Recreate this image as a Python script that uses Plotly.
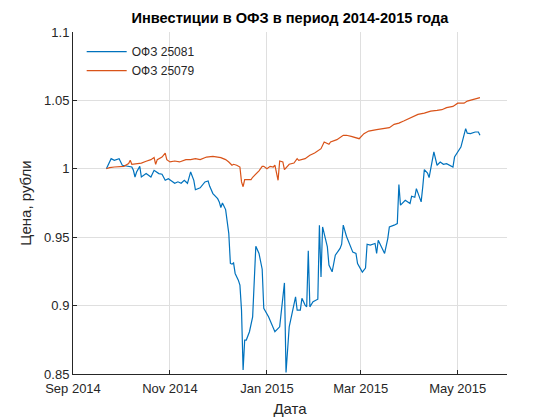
import plotly.graph_objects as go

dates_25081 = [
    "2014-09-22", "2014-09-25", "2014-09-27", "2014-09-30", "2014-10-02", "2014-10-05",
    "2014-10-08", "2014-10-09", "2014-10-10", "2014-10-11", "2014-10-13", "2014-10-14",
    "2014-10-17", "2014-10-20", "2014-10-22", "2014-10-25", "2014-10-27", "2014-10-29",
    "2014-10-31", "2014-11-02", "2014-11-04", "2014-11-06", "2014-11-08", "2014-11-10",
    "2014-11-12", "2014-11-14", "2014-11-16", "2014-11-17", "2014-11-20", "2014-11-23",
    "2014-11-25", "2014-11-26", "2014-11-28", "2014-12-01", "2014-12-02", "2014-12-03",
    "2014-12-04", "2014-12-06", "2014-12-07", "2014-12-08", "2014-12-09", "2014-12-10",
    "2014-12-11", "2014-12-12", "2014-12-14", "2014-12-15", "2014-12-16", "2014-12-17",
    "2014-12-18", "2014-12-19", "2014-12-21", "2014-12-23", "2014-12-25", "2014-12-27",
    "2014-12-29", "2014-12-30", "2015-01-02", "2015-01-06", "2015-01-09", "2015-01-12",
    "2015-01-13", "2015-01-15", "2015-01-19", "2015-01-20", "2015-01-22", "2015-01-23",
    "2015-01-25", "2015-01-26", "2015-01-27", "2015-01-28", "2015-01-30", "2015-02-02",
    "2015-02-03", "2015-02-04", "2015-02-05", "2015-02-08", "2015-02-09", "2015-02-11",
    "2015-02-13", "2015-02-16", "2015-02-17", "2015-02-18", "2015-02-20", "2015-02-24",
    "2015-02-26", "2015-02-27", "2015-03-02", "2015-03-04", "2015-03-05", "2015-03-07",
    "2015-03-10", "2015-03-11", "2015-03-12", "2015-03-16", "2015-03-18", "2015-03-19",
    "2015-03-22", "2015-03-24", "2015-03-25", "2015-03-26", "2015-03-29", "2015-04-01",
    "2015-04-02", "2015-04-04", "2015-04-05", "2015-04-08", "2015-04-09", "2015-04-10",
    "2015-04-12", "2015-04-13", "2015-04-16", "2015-04-18", "2015-04-20", "2015-04-22",
    "2015-04-24", "2015-04-26", "2015-04-28", "2015-04-29", "2015-05-03", "2015-05-06",
    "2015-05-07", "2015-05-09", "2015-05-12", "2015-05-14", "2015-05-15",
]
price_25081 = [
    1.0000, 1.0074, 1.0062, 1.0074, 1.0026, 1.0018,
    1.0013, 0.9989, 0.9940, 0.9977, 1.0018, 0.9940,
    0.9965, 0.9940, 0.9989, 0.9965, 0.9960, 0.9916,
    0.9928, 0.9911, 0.9894, 0.9905, 0.9894, 0.9916,
    0.9894, 0.9977, 0.9916, 0.9847, 0.9861, 0.9904,
    0.9911, 0.9872, 0.9819, 0.9782, 0.9758, 0.9717,
    0.9750, 0.9702, 0.9624, 0.9527, 0.9308, 0.9303,
    0.9312, 0.9235, 0.9186, 0.9150, 0.8967, 0.8529,
    0.8748, 0.8748, 0.8809, 0.8918, 0.9434, 0.9381,
    0.9266, 0.8980, 0.8918, 0.8809, 0.8845, 0.9166,
    0.8511, 0.8845, 0.9064, 0.8967, 0.8967, 0.9053,
    0.9004, 0.8991, 0.9400, 0.8991, 0.9028, 0.9047,
    0.9588, 0.9210, 0.9575, 0.9429, 0.9296, 0.9247,
    0.9369, 0.9418, 0.9449, 0.9588, 0.9507, 0.9391,
    0.9381, 0.9308, 0.9245, 0.9274, 0.9449, 0.9442,
    0.9454, 0.9381, 0.9478, 0.9381, 0.9490, 0.9575,
    0.9588, 0.9600, 0.9885, 0.9734, 0.9770, 0.9746,
    0.9799, 0.9792, 0.9855, 0.9758, 0.9867, 0.9994,
    0.9969, 0.9936, 1.0123, 1.0026, 1.0050, 1.0033,
    1.0038, 1.0026, 1.0013, 1.0086, 1.0159, 1.0293,
    1.0261, 1.0257, 1.0269, 1.0269, 1.0245,
]

dates_25079 = [
    "2014-09-22", "2014-09-24", "2014-09-27", "2014-10-01", "2014-10-03", "2014-10-06",
    "2014-10-07", "2014-10-08", "2014-10-11", "2014-10-14", "2014-10-17", "2014-10-20",
    "2014-10-22", "2014-10-23", "2014-10-24", "2014-10-27", "2014-10-29", "2014-10-30",
    "2014-11-01", "2014-11-04", "2014-11-07", "2014-11-11", "2014-11-14", "2014-11-17",
    "2014-11-20", "2014-11-24", "2014-11-28", "2014-12-03", "2014-12-06", "2014-12-08",
    "2014-12-10", "2014-12-11", "2014-12-13", "2014-12-15", "2014-12-16", "2014-12-17",
    "2014-12-18", "2014-12-22", "2014-12-23", "2014-12-26", "2014-12-27", "2014-12-29",
    "2014-12-30", "2015-01-01", "2015-01-03", "2015-01-05", "2015-01-06", "2015-01-08",
    "2015-01-09", "2015-01-11", "2015-01-12", "2015-01-15", "2015-01-18", "2015-01-20",
    "2015-01-21", "2015-01-25", "2015-01-28", "2015-01-31", "2015-02-04", "2015-02-06",
    "2015-02-08", "2015-02-09", "2015-02-10", "2015-02-14", "2015-02-18", "2015-02-20",
    "2015-02-23", "2015-02-26", "2015-02-28", "2015-03-03", "2015-03-06", "2015-03-11",
    "2015-03-15", "2015-03-19", "2015-03-22", "2015-03-25", "2015-03-28", "2015-03-31",
    "2015-04-03", "2015-04-06", "2015-04-10", "2015-04-14", "2015-04-18", "2015-04-21",
    "2015-04-24", "2015-04-28", "2015-05-01", "2015-05-05", "2015-05-07", "2015-05-10",
    "2015-05-15",
]
price_25079 = [
    1.0000, 1.0009, 1.0013, 1.0018, 1.0018, 1.0038,
    1.0062, 1.0033, 1.0038, 1.0042, 1.0055, 1.0067,
    1.0082, 1.0033, 1.0067, 1.0086, 1.0115, 1.0067,
    1.0050, 1.0057, 1.0050, 1.0067, 1.0067, 1.0074,
    1.0067, 1.0086, 1.0091, 1.0082, 1.0067, 1.0050,
    1.0026, 1.0033, 1.0026, 1.0013, 0.9904, 0.9869,
    0.9921, 0.9921, 0.9938, 0.9969, 0.9985, 1.0018,
    1.0018, 1.0001, 1.0018, 1.0013, 1.0026, 0.9916,
    1.0057, 1.0050, 0.9994, 1.0033, 1.0042, 1.0074,
    1.0062, 1.0074, 1.0099, 1.0115, 1.0147, 1.0196,
    1.0184, 1.0179, 1.0196, 1.0213, 1.0245, 1.0245,
    1.0237, 1.0225, 1.0220, 1.0257, 1.0276, 1.0286,
    1.0293, 1.0301, 1.0325, 1.0334, 1.0349, 1.0366,
    1.0383, 1.0398, 1.0407, 1.0422, 1.0427, 1.0432,
    1.0447, 1.0456, 1.0480, 1.0480, 1.0495, 1.0505,
    1.0520,
]

y_ticks = [0.85, 0.9, 0.95, 1.0, 1.05, 1.1]
y_tick_labels = ["0.85", "0.9", "0.95", "1", "1.05", "1.1"]

FONT = "Liberation Sans, Arial, Helvetica, sans-serif"
AXIS_COLOR = "#262626"
GRID_COLOR = "#dfdfdf"

# the page places the figure 8px from the top-left corner; margins compensate
OFF = 8

fig = go.Figure()
fig.add_trace(go.Scatter(x=dates_25081, y=price_25081, mode="lines", name="ОФЗ 25081",
                         line=dict(color="#0072BD", width=1.2)))
fig.add_trace(go.Scatter(x=dates_25079, y=price_25079, mode="lines", name="ОФЗ 25079",
                         line=dict(color="#D95319", width=1.2)))

fig.update_layout(
    width=560, height=420,
    paper_bgcolor="white", plot_bgcolor="white",
    margin=dict(l=73 - OFF, r=53 + OFF, t=32 - OFF, b=46 + OFF, autoexpand=False),
    font=dict(family=FONT, size=13, color=AXIS_COLOR),
    title=dict(text="<b>Инвестиции в ОФЗ в период 2014-2015 года</b>",
               x=(290 - OFF) / 560, xanchor="center", y=1 - (18 - OFF) / 420, yanchor="middle",
               font=dict(family=FONT, size=14.6, color="black")),
    showlegend=True,
    legend=dict(x=0.02, y=0.985, xanchor="left", yanchor="top",
                bgcolor="rgba(0,0,0,0)", borderwidth=0,
                font=dict(family=FONT, size=12, color=AXIS_COLOR),
                tracegroupgap=0, itemwidth=40),
    xaxis=dict(
        type="date",
        range=["2014-09-01", "2015-06-01"],
        tick0="2014-09-01", dtick="M2", tickformat="%b %Y",
        showgrid=True, gridcolor=GRID_COLOR, gridwidth=1,
        showline=True, linecolor=AXIS_COLOR, linewidth=1,
        ticks="inside", ticklen=4, tickcolor=AXIS_COLOR,
        ticklabelstandoff=2,
        tickfont=dict(family=FONT, size=13, color=AXIS_COLOR),
        title=dict(text="Дата", font=dict(family=FONT, size=15, color=AXIS_COLOR), standoff=8),
        zeroline=False, mirror=False, automargin=False,
    ),
    yaxis=dict(
        range=[0.85, 1.1],
        tickvals=y_ticks, ticktext=y_tick_labels,
        showgrid=True, gridcolor=GRID_COLOR, gridwidth=1,
        showline=True, linecolor=AXIS_COLOR, linewidth=1,
        ticks="inside", ticklen=4, tickcolor=AXIS_COLOR,
        tickfont=dict(family=FONT, size=13, color=AXIS_COLOR),
        title=dict(text="Цена, рубли", font=dict(family=FONT, size=15, color=AXIS_COLOR), standoff=8),
        zeroline=False, mirror=False, automargin=False,
    ),
)

fig.write_html("out.html")
